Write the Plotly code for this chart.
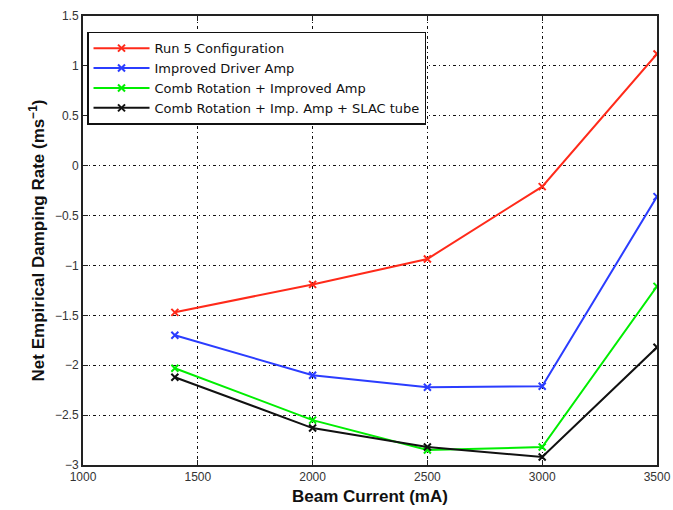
import plotly.graph_objects as go

beam_current = [1400, 2000, 2500, 3000, 3500]
run5 = [-1.47, -1.19, -0.935, -0.21, 1.12]
improved_driver = [-1.70, -2.10, -2.22, -2.21, -0.31]
comb_rotation = [-2.03, -2.55, -2.85, -2.82, -1.21]
comb_slac = [-2.12, -2.63, -2.82, -2.92, -1.82]

series_names = ["Run 5 Configuration", "Improved Driver Amp",
                "Comb Rotation + Improved Amp", "Comb Rotation + Imp. Amp + SLAC tube"]
series_values = [run5, improved_driver, comb_rotation, comb_slac]
series_colors = ["#ff2a1a", "#2b3dff", "#00ee00", "#111111"]

x_ticks = [1000, 1500, 2000, 2500, 3000, 3500]
y_ticks = [-3, -2.5, -2, -1.5, -1, -0.5, 0, 0.5, 1, 1.5]
y_tick_text = ["\u22123", "\u22122.5", "\u22122", "\u22121.5", "\u22121", "\u22120.5", "0", "0.5", "1", "1.5"]

fig = go.Figure()
for name, vals, col in zip(series_names, series_values, series_colors):
    fig.add_trace(go.Scatter(
        x=beam_current, y=vals, name=name, mode="lines+markers",
        line=dict(color=col, width=2),
        marker=dict(symbol="x-thin", size=7, line=dict(color=col, width=2), color=col),
    ))

axis_common = dict(
    showline=True, linecolor="#222", linewidth=2, mirror="ticks",
    ticks="inside", ticklen=5, tickcolor="#222",
    showgrid=True, gridcolor="#111", gridwidth=1.3, griddash="3px,3px,1px,3px",
    zeroline=False, automargin=False,
    tickfont=dict(family="Liberation Sans, Arial", size=12, color="#333"),
)

fig.update_layout(
    width=673, height=510,
    margin=dict(l=83, r=16, t=16, b=45),
    paper_bgcolor="white", plot_bgcolor="white",
    font=dict(family="Liberation Sans, Arial", color="#111"),
    xaxis=dict(range=[1000, 3500], tickvals=x_ticks,
               title=dict(text="<b>Beam Current (mA)</b>", font=dict(size=17), standoff=7),
               **axis_common),
    yaxis=dict(range=[-3, 1.5], tickvals=y_ticks, ticktext=y_tick_text,
               title=dict(text="<b>Net Empirical Damping Rate (ms<sup>\u22121</sup>)</b>", font=dict(size=17), standoff=6),
               **axis_common),
    legend=dict(x=0.007, y=0.965, xanchor="left", yanchor="top",
                bgcolor="white", bordercolor="#111", borderwidth=1.5,
                font=dict(size=13, family="DejaVu Sans", color="#111"),
                tracegroupgap=0, itemwidth=56),
    showlegend=True,
)

fig.write_html("out.html")
